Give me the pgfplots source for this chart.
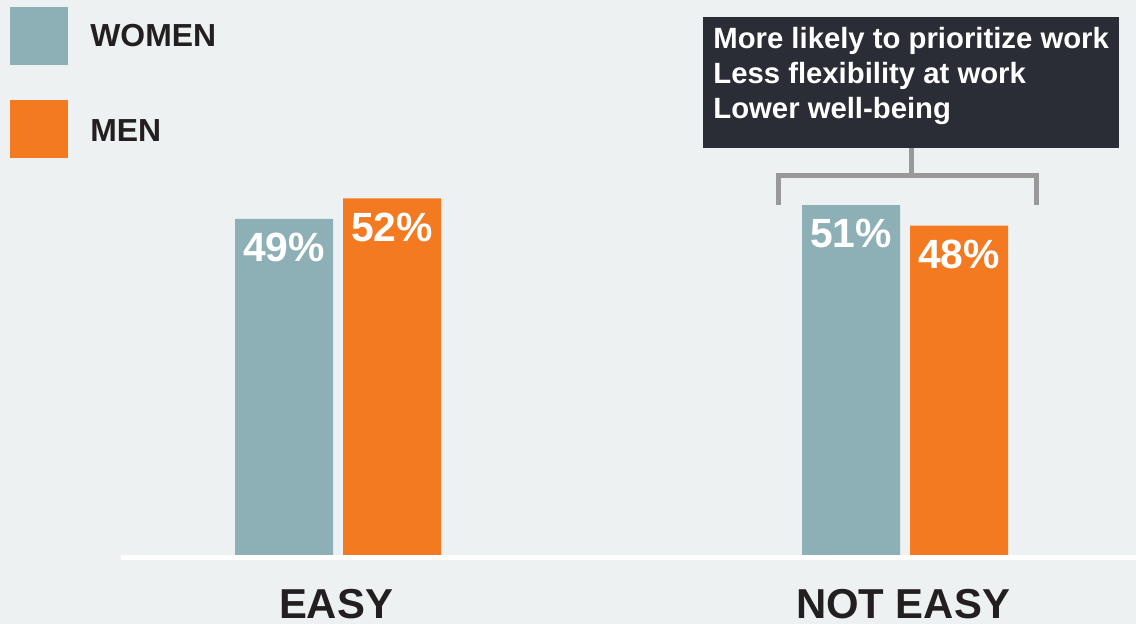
\documentclass[border=0pt]{standalone}
\usepackage{pgfplots}
\pgfplotsset{compat=1.18}
\usepackage{fontspec}
\setmainfont{Liberation Sans}
\definecolor{bg}{RGB}{238,241,242}
\definecolor{women}{RGB}{141,176,182}
\definecolor{men}{RGB}{244,122,34}
\definecolor{ink}{RGB}{35,31,32}
\definecolor{boxc}{RGB}{43,45,54}
\definecolor{brk}{RGB}{153,153,153}
\begin{document}
\begin{tikzpicture}
\begin{scope}[x=0.5bp,y=-0.5bp]
\fill[bg] (0,0) rectangle (1136,624);
\useasboundingbox (0,0) rectangle (1136,624);
\end{scope}
\begin{axis}[
  at={(60.5bp,-277.5bp)}, anchor=south west,
  scale only axis, width=507.5bp, height=274.4bp,
  xmin=121, xmax=1136, ymin=0, ymax=80,
  clip=false,
  /pgf/number format/assume math mode=true,
  axis x line*=bottom, axis y line=none,
  x axis line style={draw=none},
  tick style={draw=none},
  xtick={336,903}, xticklabels={EASY,NOT EASY},
  xticklabel style={anchor=base, yshift=-31.5bp, inner sep=0pt,
    font=\fontsize{21}{25}\selectfont\bfseries, text=ink},
  nodes near coords={\pgfmathprintnumber{\pgfplotspointmeta}\%},
  nodes near coords style={anchor=north, yshift=-7bp, inner sep=0pt,
    font=\fontsize{20.5}{24}\selectfont\bfseries, text=white},
]
\addplot[ybar, bar width=49bp, bar shift=0pt, fill=women, draw=none]
  coordinates {(284,49) (851,51)};
\addplot[ybar, bar width=49bp, bar shift=0pt, fill=men, draw=none]
  coordinates {(392,52) (959,48)};
\end{axis}
\begin{scope}[x=0.5bp,y=-0.5bp]
% baseline
\fill[white] (121,555) rectangle (1136,559.7);
% legend
\fill[women] (10,7) rectangle (68,65);
\fill[men] (10,100) rectangle (68,158);
\node[anchor=base west, inner sep=0pt, font=\fontsize{16}{19}\selectfont\bfseries, text=ink] at (90,47) {WOMEN};
\node[anchor=base west, inner sep=0pt, font=\fontsize{16}{19}\selectfont\bfseries, text=ink] at (90,142) {MEN};
% annotation box
\fill[boxc] (703,17) rectangle (1119,148);
\node[anchor=base west, inner sep=0pt, font=\fontsize{14.7}{17}\selectfont\bfseries, text=white] at (713,49) {More likely to prioritize work};
\node[anchor=base west, inner sep=0pt, font=\fontsize{14.7}{17}\selectfont\bfseries, text=white] at (713,84) {Less flexibility at work};
\node[anchor=base west, inner sep=0pt, font=\fontsize{14.7}{17}\selectfont\bfseries, text=white] at (713,119) {Lower well-being};
% bracket
\draw[brk, line width=2.5bp] (912,148) -- (912,175.5);
\draw[brk, line width=2.5bp] (778.5,205) -- (778.5,175.5) -- (1036.5,175.5) -- (1036.5,205);
\end{scope}
\end{tikzpicture}
\end{document}
